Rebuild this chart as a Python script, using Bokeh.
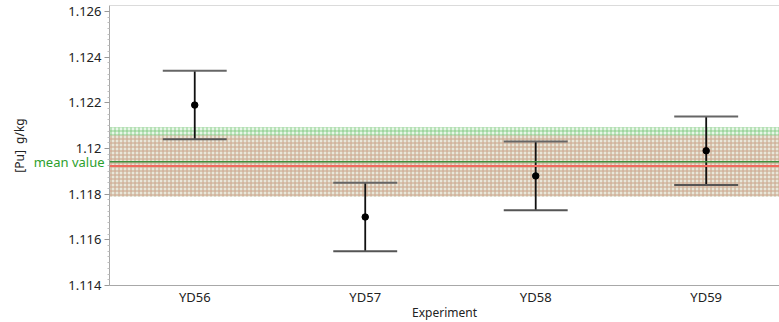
from bokeh.plotting import figure
from bokeh.models import (Range1d, FixedTicker, CustomJSTickFormatter, Span,
                          BoxAnnotation, ColumnDataSource, LinearAxis)
from bokeh.embed import file_html
from bokeh.resources import INLINE

# ---- data ----
experiments = ["YD56", "YD57", "YD58", "YD59"]
values = [1.1219, 1.1170, 1.1188, 1.1199]
upper = [1.1234, 1.1185, 1.1203, 1.1214]
lower = [1.1204, 1.1155, 1.1173, 1.1184]

green_mean = 1.11942
green_low = 1.11790
green_high = 1.12093
red_mean = 1.11923
red_low = 1.11790
red_high = 1.12057

y_ticks = [1.114, 1.116, 1.118, 1.120, 1.122, 1.124, 1.126]
mean_label = "mean value"

FONT = "Noto Sans"
xs = list(range(1, len(experiments) + 1))
cap_half = 0.1875
X0 = 0.5

p = figure(frame_width=670, frame_height=280, output_backend="svg", toolbar_location=None,
           x_range=Range1d(X0, 4.43), y_range=Range1d(1.114, 1.12626),
           min_border_left=109, min_border_right=0, min_border_top=5,
           min_border_bottom=0)
p.outline_line_color = None
p.xgrid.grid_line_color = None
p.ygrid.grid_line_color = None
p.background_fill_color = "white"

# bands
p.add_layout(BoxAnnotation(bottom=green_low, top=green_high, fill_color="#e8f6e8",
                           fill_alpha=1.0, line_color=None, hatch_pattern="+",
                           hatch_color="#74c474", hatch_alpha=0.8, hatch_scale=4,
                           hatch_weight=1, level="underlay"))
p.add_layout(BoxAnnotation(bottom=red_low, top=red_high, fill_color="#f0c0b8",
                           fill_alpha=0.3, line_color=None, hatch_pattern="+",
                           hatch_color="#f09a94", hatch_alpha=0.6, hatch_scale=4,
                           hatch_weight=1, level="underlay"))
p.add_layout(Span(location=green_mean, dimension="width", line_color="#3f8f3f",
                  line_width=1.5))
p.add_layout(Span(location=red_mean, dimension="width", line_color="#f06a5e",
                  line_width=2))
# top border
p.add_layout(Span(location=1.12626, dimension="width", line_color="#b8b8b8",
                  line_width=1))

src = ColumnDataSource(dict(
    x=xs, y=values, up=upper, lo=lower,
    cx0=[x - cap_half for x in xs], cx1=[x + cap_half for x in xs]))

p.segment(x0="x", y0="lo", x1="x", y1="up", source=src, line_color="#111111",
          line_width=1.8)
p.segment(x0="cx0", y0="up", x1="cx1", y1="up", source=src, line_color="#666666",
          line_width=2)
p.segment(x0="cx0", y0="lo", x1="cx1", y1="lo", source=src, line_color="#555555",
          line_width=2)
p.scatter(x="x", y="y", source=src, size=6.5, color="black")

# axes
xa = p.xaxis[0]
xa.ticker = FixedTicker(ticks=xs)
xa.major_label_overrides = {i: n for i, n in zip(xs, experiments)}
xa.major_tick_line_color = None
xa.minor_tick_line_color = None
xa.major_tick_out = 0
xa.major_tick_in = 0
xa.minor_tick_out = 0
xa.minor_tick_in = 0
xa.axis_line_color = "#a8a8a8"
xa.major_label_text_font = FONT
xa.major_label_text_font_size = "13px"
xa.major_label_text_color = "#222222"
xa.major_label_standoff = 2
xa.axis_label = "Experiment"
xa.axis_label_text_font = FONT
xa.axis_label_text_font_style = "normal"
xa.axis_label_text_font_size = "12px"
xa.axis_label_text_color = "#222222"
xa.axis_label_standoff = -5

minor = []
for i in range(len(y_ticks) - 1):
    for k in range(1, 8):
        minor.append(y_ticks[i] + k * 0.00025)

ya = p.yaxis[0]
ya.ticker = FixedTicker(ticks=y_ticks, minor_ticks=minor)
ya.formatter = CustomJSTickFormatter(code="return parseFloat(tick.toFixed(3)).toString();")
ya.axis_line_color = "#a8a8a8"
ya.major_tick_line_color = "#999999"
ya.major_tick_out = 5
ya.major_tick_in = 0
ya.minor_tick_line_color = "#c0c0c0"
ya.minor_tick_out = 2
ya.minor_tick_in = 0
ya.major_label_text_font = FONT
ya.major_label_text_font_size = "13px"
ya.major_label_text_color = "#222222"
ya.major_label_standoff = 3

# outer left axis: carries the "mean value" label (pulled back next to the frame)
# and the y axis title
mean_ax = LinearAxis(ticker=FixedTicker(ticks=[green_mean], minor_ticks=[]),
                     formatter=CustomJSTickFormatter(args=dict(t=mean_label), code="return t;"),
                     axis_line_color=None, major_tick_line_color=None,
                     major_tick_out=0, major_tick_in=0, minor_tick_line_color=None,
                     minor_tick_out=0, minor_tick_in=0,
                     major_label_standoff=-39, major_label_text_color="#2ca02c",
                     major_label_text_font=FONT, major_label_text_font_size="13px",
                     axis_label="[Pu]\u00a0\u00a0g/kg", axis_label_text_font=FONT,
                     axis_label_text_font_style="normal", axis_label_text_font_size="12px",
                     axis_label_text_color="#222222", axis_label_standoff=3)
p.add_layout(mean_ax, "left")

open("out.html", "w").write(file_html(p, INLINE))
